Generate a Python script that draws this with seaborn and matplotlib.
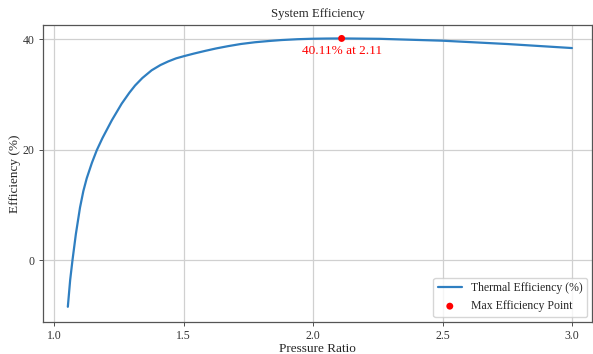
import pandas as pd
import matplotlib
matplotlib.use("Agg")
import matplotlib.pyplot as plt
import seaborn as sns

# values
pressure_ratio = [1.052, 1.061, 1.070, 1.083, 1.099, 1.112, 1.125, 1.145, 1.164, 1.186,
                  1.222, 1.260, 1.290, 1.312, 1.340, 1.376, 1.410, 1.440, 1.470, 1.502,
                  1.540, 1.582, 1.625, 1.672, 1.720, 1.775, 1.830, 1.878, 1.940, 1.994,
                  2.050, 2.110, 2.258, 2.500, 2.750, 3.000]
efficiency = [-8.45, -3.6, 0.0, 4.7, 9.5, 12.5, 14.8, 17.6, 19.9, 22.1,
              25.3, 28.3, 30.3, 31.6, 32.95, 34.35, 35.3, 35.95, 36.5, 36.92,
              37.38, 37.85, 38.3, 38.72, 39.1, 39.42, 39.65, 39.82, 39.97, 40.05,
              40.09, 40.11, 40.04, 39.7, 39.1, 38.37]
max_x = [2.11]
max_y = [40.11]

df = pd.DataFrame({"Pressure Ratio": pressure_ratio, "Efficiency": efficiency})
peak = pd.DataFrame({"Pressure Ratio": max_x, "Efficiency": max_y})

sns.set_style("whitegrid", {
    "axes.edgecolor": "#555555",
    "grid.color": "#d0d0d0",
    "xtick.bottom": True,
    "ytick.left": True,
})
plt.rcParams["font.family"] = ["Liberation Serif", "DejaVu Serif"]
plt.rcParams["xtick.color"] = "#333333"
plt.rcParams["ytick.color"] = "#333333"

fig = plt.figure(figsize=(5.93, 3.54), dpi=100)
ax = fig.add_axes([0.0725, 0.0912, 0.926, 0.838])

sns.lineplot(data=df, x="Pressure Ratio", y="Efficiency", ax=ax,
             color="#2f7fc1", linewidth=1.6, label="Thermal Efficiency (%)")
sns.scatterplot(data=peak, x="Pressure Ratio", y="Efficiency", ax=ax,
                color="red", s=25, edgecolor="none", zorder=5,
                label="Max Efficiency Point")

ax.annotate(f"{max_y[0]:.2f}% at {max_x[0]:.2f}", (max_x[0], max_y[0]),
            xytext=(0, -5), textcoords="offset points", ha="center", va="top",
            color="red", fontsize=9.5)

ax.set_xlim(0.956, 3.078)
ax.set_ylim(-11.15, 42.53)
ax.set_xticks([1.0, 1.5, 2.0, 2.5, 3.0])
ax.set_yticks([0, 20, 40])
ax.tick_params(labelsize=8.5, length=3, width=0.6, pad=3)
for s in ax.spines.values():
    s.set_linewidth(0.9)

ax.set_title("System Efficiency", fontsize=9.2, pad=6)
ax.set_xlabel("Pressure Ratio", fontsize=9.5, labelpad=0.5)
ax.set_ylabel("Efficiency (%)", fontsize=9.5, labelpad=1)
ax.grid(True, linewidth=0.9)

ax.legend(loc="lower right", fontsize=8.5, frameon=True, edgecolor="#cccccc",
          borderaxespad=0.4)

fig.savefig("out.png", dpi=100)
